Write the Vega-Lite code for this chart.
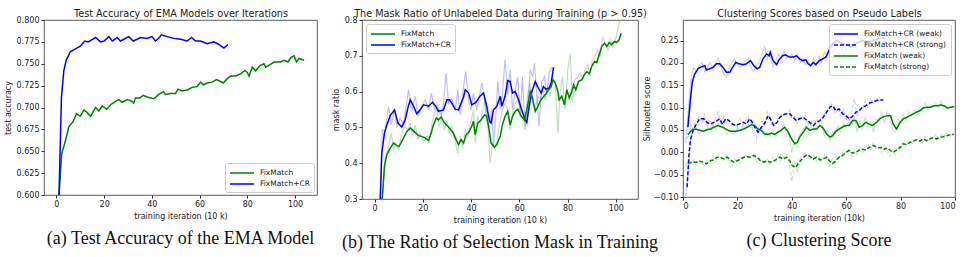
{
  "$schema": "https://vega.github.io/schema/vega-lite/v6.json",
  "background": "white",
  "padding": {"left": 3, "top": 7, "right": 4, "bottom": 2},
  "spacing": 45,
  "bounds": "flush",
  "resolve": {"scale": {"color": "independent", "strokeDash": "independent"}, "legend": {"color": "independent", "strokeDash": "independent"}},
  "datasets": {
    "a": [
      {"s":"FixMatch+CR","x":1.1,"y":0.600},{"s":"FixMatch+CR","x":2.1,"y":0.711},{"s":"FixMatch+CR","x":3.1,"y":0.742},{"s":"FixMatch+CR","x":4.1,"y":0.754},{"s":"FixMatch+CR","x":5.9,"y":0.764},{"s":"FixMatch+CR","x":8,"y":0.767},{"s":"FixMatch+CR","x":10,"y":0.770},{"s":"FixMatch+CR","x":11.9,"y":0.776},{"s":"FixMatch+CR","x":13.3,"y":0.775},{"s":"FixMatch+CR","x":14.6,"y":0.777},{"s":"FixMatch+CR","x":16.4,"y":0.780},{"s":"FixMatch+CR","x":18.5,"y":0.775},{"s":"FixMatch+CR","x":20,"y":0.776},{"s":"FixMatch+CR","x":22,"y":0.781},{"s":"FixMatch+CR","x":23.4,"y":0.776},{"s":"FixMatch+CR","x":25.5,"y":0.780},{"s":"FixMatch+CR","x":26.8,"y":0.776},{"s":"FixMatch+CR","x":28.3,"y":0.778},{"s":"FixMatch+CR","x":30.3,"y":0.781},{"s":"FixMatch+CR","x":32.2,"y":0.776},{"s":"FixMatch+CR","x":33.8,"y":0.778},{"s":"FixMatch+CR","x":35.2,"y":0.780},{"s":"FixMatch+CR","x":38,"y":0.779},{"s":"FixMatch+CR","x":40,"y":0.781},{"s":"FixMatch+CR","x":41.5,"y":0.776},{"s":"FixMatch+CR","x":42.8,"y":0.779},{"s":"FixMatch+CR","x":44,"y":0.783},{"s":"FixMatch+CR","x":46.4,"y":0.781},{"s":"FixMatch+CR","x":49.2,"y":0.779},{"s":"FixMatch+CR","x":52,"y":0.778},{"s":"FixMatch+CR","x":54.8,"y":0.776},{"s":"FixMatch+CR","x":56.6,"y":0.780},{"s":"FixMatch+CR","x":58.3,"y":0.776},{"s":"FixMatch+CR","x":60.4,"y":0.776},{"s":"FixMatch+CR","x":63.2,"y":0.773},{"s":"FixMatch+CR","x":66,"y":0.775},{"s":"FixMatch+CR","x":68.1,"y":0.772},{"s":"FixMatch+CR","x":70.2,"y":0.768},{"s":"FixMatch+CR","x":71.9,"y":0.772},
      {"s":"FixMatch","x":1.1,"y":0.600},{"s":"FixMatch","x":2.2,"y":0.647},{"s":"FixMatch","x":3.8,"y":0.662},{"s":"FixMatch","x":5.2,"y":0.678},{"s":"FixMatch","x":7,"y":0.684},{"s":"FixMatch","x":8.4,"y":0.693},{"s":"FixMatch","x":10,"y":0.690},{"s":"FixMatch","x":11.5,"y":0.697},{"s":"FixMatch","x":12.6,"y":0.695},{"s":"FixMatch","x":14.3,"y":0.690},{"s":"FixMatch","x":16.4,"y":0.700},{"s":"FixMatch","x":17.8,"y":0.696},{"s":"FixMatch","x":19.2,"y":0.702},{"s":"FixMatch","x":21,"y":0.698},{"s":"FixMatch","x":23.1,"y":0.704},{"s":"FixMatch","x":24.8,"y":0.707},{"s":"FixMatch","x":26.2,"y":0.709},{"s":"FixMatch","x":27.6,"y":0.706},{"s":"FixMatch","x":29.7,"y":0.709},{"s":"FixMatch","x":31.7,"y":0.707},{"s":"FixMatch","x":32.4,"y":0.705},{"s":"FixMatch","x":33.1,"y":0.711},{"s":"FixMatch","x":35,"y":0.711},{"s":"FixMatch","x":36.4,"y":0.714},{"s":"FixMatch","x":38,"y":0.712},{"s":"FixMatch","x":40.8,"y":0.710},{"s":"FixMatch","x":42.9,"y":0.715},{"s":"FixMatch","x":44.8,"y":0.718},{"s":"FixMatch","x":45.7,"y":0.715},{"s":"FixMatch","x":47.8,"y":0.716},{"s":"FixMatch","x":49.9,"y":0.716},{"s":"FixMatch","x":50.9,"y":0.721},{"s":"FixMatch","x":52.7,"y":0.719},{"s":"FixMatch","x":54.8,"y":0.720},{"s":"FixMatch","x":56.9,"y":0.723},{"s":"FixMatch","x":59,"y":0.724},{"s":"FixMatch","x":60.4,"y":0.729},{"s":"FixMatch","x":61.5,"y":0.726},{"s":"FixMatch","x":63.2,"y":0.728},{"s":"FixMatch","x":65.3,"y":0.729},{"s":"FixMatch","x":67.1,"y":0.732},{"s":"FixMatch","x":68.5,"y":0.730},{"s":"FixMatch","x":69.9,"y":0.728},{"s":"FixMatch","x":71.6,"y":0.733},{"s":"FixMatch","x":73,"y":0.736},{"s":"FixMatch","x":75.1,"y":0.736},{"s":"FixMatch","x":76.9,"y":0.738},{"s":"FixMatch","x":78.9,"y":0.742},{"s":"FixMatch","x":80,"y":0.740},{"s":"FixMatch","x":80.7,"y":0.736},{"s":"FixMatch","x":82.1,"y":0.746},{"s":"FixMatch","x":83.5,"y":0.742},{"s":"FixMatch","x":85.3,"y":0.748},{"s":"FixMatch","x":87,"y":0.750},{"s":"FixMatch","x":87.7,"y":0.746},{"s":"FixMatch","x":89.5,"y":0.749},{"s":"FixMatch","x":91.2,"y":0.752},{"s":"FixMatch","x":94,"y":0.752},{"s":"FixMatch","x":95.4,"y":0.754},{"s":"FixMatch","x":97.1,"y":0.752},{"s":"FixMatch","x":98.2,"y":0.757},{"s":"FixMatch","x":99.6,"y":0.759},{"s":"FixMatch","x":100.6,"y":0.752},{"s":"FixMatch","x":101.7,"y":0.756},{"s":"FixMatch","x":103.8,"y":0.754}
    ],
    "b_raw": [
      {"s":"FixMatch+CR","x":2,"y":0.27},{"s":"FixMatch+CR","x":3.3,"y":0.493},{"s":"FixMatch+CR","x":4.4,"y":0.489},{"s":"FixMatch+CR","x":5.8,"y":0.559},{"s":"FixMatch+CR","x":6.9,"y":0.507},{"s":"FixMatch+CR","x":8.3,"y":0.549},{"s":"FixMatch+CR","x":9.3,"y":0.503},{"s":"FixMatch+CR","x":10.6,"y":0.526},{"s":"FixMatch+CR","x":12,"y":0.507},{"s":"FixMatch+CR","x":14.1,"y":0.605},{"s":"FixMatch+CR","x":15.5,"y":0.545},{"s":"FixMatch+CR","x":16.9,"y":0.587},{"s":"FixMatch+CR","x":18,"y":0.531},{"s":"FixMatch+CR","x":19.6,"y":0.559},{"s":"FixMatch+CR","x":21,"y":0.577},{"s":"FixMatch+CR","x":22.4,"y":0.549},{"s":"FixMatch+CR","x":23.5,"y":0.596},{"s":"FixMatch+CR","x":24.9,"y":0.549},{"s":"FixMatch+CR","x":26.2,"y":0.559},{"s":"FixMatch+CR","x":27.6,"y":0.531},{"s":"FixMatch+CR","x":28.6,"y":0.568},{"s":"FixMatch+CR","x":29.6,"y":0.652},{"s":"FixMatch+CR","x":30.7,"y":0.568},{"s":"FixMatch+CR","x":32,"y":0.582},{"s":"FixMatch+CR","x":33.4,"y":0.545},{"s":"FixMatch+CR","x":34.5,"y":0.605},{"s":"FixMatch+CR","x":35.5,"y":0.535},{"s":"FixMatch+CR","x":36.9,"y":0.614},{"s":"FixMatch+CR","x":37.8,"y":0.656},{"s":"FixMatch+CR","x":39,"y":0.577},{"s":"FixMatch+CR","x":40.1,"y":0.549},{"s":"FixMatch+CR","x":41,"y":0.596},{"s":"FixMatch+CR","x":42.4,"y":0.549},{"s":"FixMatch+CR","x":43.4,"y":0.587},{"s":"FixMatch+CR","x":44.5,"y":0.624},{"s":"FixMatch+CR","x":45.6,"y":0.573},{"s":"FixMatch+CR","x":46.5,"y":0.521},{"s":"FixMatch+CR","x":47.5,"y":0.503},{"s":"FixMatch+CR","x":48.6,"y":0.549},{"s":"FixMatch+CR","x":49.3,"y":0.447},{"s":"FixMatch+CR","x":50.3,"y":0.54},{"s":"FixMatch+CR","x":51.1,"y":0.628},{"s":"FixMatch+CR","x":52.1,"y":0.549},{"s":"FixMatch+CR","x":53,"y":0.596},{"s":"FixMatch+CR","x":54.1,"y":0.689},{"s":"FixMatch+CR","x":55.2,"y":0.591},{"s":"FixMatch+CR","x":56.2,"y":0.661},{"s":"FixMatch+CR","x":57.2,"y":0.549},{"s":"FixMatch+CR","x":58.3,"y":0.605},{"s":"FixMatch+CR","x":59.4,"y":0.642},{"s":"FixMatch+CR","x":60.4,"y":0.531},{"s":"FixMatch+CR","x":61.3,"y":0.642},{"s":"FixMatch+CR","x":62.4,"y":0.493},{"s":"FixMatch+CR","x":63.5,"y":0.549},{"s":"FixMatch+CR","x":64.5,"y":0.661},{"s":"FixMatch+CR","x":65.5,"y":0.642},{"s":"FixMatch+CR","x":66.3,"y":0.68},{"s":"FixMatch+CR","x":67.3,"y":0.587},{"s":"FixMatch+CR","x":68.2,"y":0.503},{"s":"FixMatch+CR","x":69.3,"y":0.624},{"s":"FixMatch+CR","x":70.4,"y":0.642},{"s":"FixMatch+CR","x":71.4,"y":0.591},{"s":"FixMatch+CR","x":72.4,"y":0.652},{"s":"FixMatch+CR","x":73.2,"y":0.666},{"s":"FixMatch+CR","x":74.2,"y":0.666},
      {"s":"FixMatch","x":2.8,"y":0.27},{"s":"FixMatch","x":4.4,"y":0.41},{"s":"FixMatch","x":5.8,"y":0.447},{"s":"FixMatch","x":6.9,"y":0.484},{"s":"FixMatch","x":7.9,"y":0.438},{"s":"FixMatch","x":8.8,"y":0.456},{"s":"FixMatch","x":9.9,"y":0.438},{"s":"FixMatch","x":11.3,"y":0.484},{"s":"FixMatch","x":12.7,"y":0.503},{"s":"FixMatch","x":13.8,"y":0.493},{"s":"FixMatch","x":14.8,"y":0.512},{"s":"FixMatch","x":15.7,"y":0.475},{"s":"FixMatch","x":16.9,"y":0.507},{"s":"FixMatch","x":18,"y":0.466},{"s":"FixMatch","x":18.9,"y":0.484},{"s":"FixMatch","x":20.3,"y":0.461},{"s":"FixMatch","x":21.7,"y":0.475},{"s":"FixMatch","x":22.7,"y":0.456},{"s":"FixMatch","x":23.8,"y":0.512},{"s":"FixMatch","x":24.9,"y":0.54},{"s":"FixMatch","x":25.8,"y":0.549},{"s":"FixMatch","x":26.8,"y":0.503},{"s":"FixMatch","x":27.9,"y":0.526},{"s":"FixMatch","x":29,"y":0.493},{"s":"FixMatch","x":30,"y":0.521},{"s":"FixMatch","x":30.9,"y":0.484},{"s":"FixMatch","x":32,"y":0.503},{"s":"FixMatch","x":33.4,"y":0.461},{"s":"FixMatch","x":34.5,"y":0.428},{"s":"FixMatch","x":35.5,"y":0.475},{"s":"FixMatch","x":36.5,"y":0.442},{"s":"FixMatch","x":37.6,"y":0.493},{"s":"FixMatch","x":38.7,"y":0.475},{"s":"FixMatch","x":39.8,"y":0.512},{"s":"FixMatch","x":41,"y":0.549},{"s":"FixMatch","x":41.7,"y":0.456},{"s":"FixMatch","x":42.8,"y":0.531},{"s":"FixMatch","x":43.8,"y":0.507},{"s":"FixMatch","x":44.8,"y":0.549},{"s":"FixMatch","x":45.9,"y":0.577},{"s":"FixMatch","x":47,"y":0.503},{"s":"FixMatch","x":47.9,"y":0.4},{"s":"FixMatch","x":48.9,"y":0.456},{"s":"FixMatch","x":50,"y":0.438},{"s":"FixMatch","x":51.1,"y":0.475},{"s":"FixMatch","x":52.1,"y":0.521},{"s":"FixMatch","x":53,"y":0.549},{"s":"FixMatch","x":54.1,"y":0.568},{"s":"FixMatch","x":55.2,"y":0.549},{"s":"FixMatch","x":56.2,"y":0.493},{"s":"FixMatch","x":57.2,"y":0.54},{"s":"FixMatch","x":58.3,"y":0.568},{"s":"FixMatch","x":59.4,"y":0.577},{"s":"FixMatch","x":60.4,"y":0.549},{"s":"FixMatch","x":61.3,"y":0.521},{"s":"FixMatch","x":62.4,"y":0.512},{"s":"FixMatch","x":63.5,"y":0.596},{"s":"FixMatch","x":64.5,"y":0.624},{"s":"FixMatch","x":65.5,"y":0.568},{"s":"FixMatch","x":66.6,"y":0.549},{"s":"FixMatch","x":67.7,"y":0.587},{"s":"FixMatch","x":68.6,"y":0.577},{"s":"FixMatch","x":69.6,"y":0.605},{"s":"FixMatch","x":70.7,"y":0.577},{"s":"FixMatch","x":71.8,"y":0.614},{"s":"FixMatch","x":72.8,"y":0.587},{"s":"FixMatch","x":73.8,"y":0.642},{"s":"FixMatch","x":74.9,"y":0.624},{"s":"FixMatch","x":76,"y":0.484},{"s":"FixMatch","x":76.9,"y":0.596},{"s":"FixMatch","x":77.9,"y":0.642},{"s":"FixMatch","x":79,"y":0.549},{"s":"FixMatch","x":80.1,"y":0.661},{"s":"FixMatch","x":81.1,"y":0.707},{"s":"FixMatch","x":82,"y":0.568},{"s":"FixMatch","x":83.1,"y":0.633},{"s":"FixMatch","x":84.3,"y":0.642},{"s":"FixMatch","x":85.2,"y":0.652},{"s":"FixMatch","x":86.2,"y":0.633},{"s":"FixMatch","x":87.3,"y":0.661},{"s":"FixMatch","x":88.4,"y":0.675},{"s":"FixMatch","x":89.4,"y":0.642},{"s":"FixMatch","x":90.3,"y":0.689},{"s":"FixMatch","x":91.4,"y":0.698},{"s":"FixMatch","x":92.5,"y":0.717},{"s":"FixMatch","x":93.5,"y":0.698},{"s":"FixMatch","x":94.5,"y":0.754},{"s":"FixMatch","x":95.6,"y":0.735},{"s":"FixMatch","x":96.7,"y":0.717},{"s":"FixMatch","x":97.7,"y":0.745},{"s":"FixMatch","x":98.6,"y":0.726},{"s":"FixMatch","x":99.7,"y":0.74},{"s":"FixMatch","x":100.8,"y":0.773},{"s":"FixMatch","x":101.8,"y":0.8},{"s":"FixMatch","x":102.8,"y":0.805},{"s":"FixMatch","x":103.6,"y":0.805}
    ],
    "b_smooth": [
      {"s":"FixMatch+CR","x":2.3,"y":0.28},{"s":"FixMatch+CR","x":3,"y":0.428},{"s":"FixMatch+CR","x":4.1,"y":0.484},{"s":"FixMatch+CR","x":5.1,"y":0.507},{"s":"FixMatch+CR","x":6.5,"y":0.533},{"s":"FixMatch+CR","x":8.3,"y":0.549},{"s":"FixMatch+CR","x":9.7,"y":0.512},{"s":"FixMatch+CR","x":11.3,"y":0.501},{"s":"FixMatch+CR","x":12.7,"y":0.521},{"s":"FixMatch+CR","x":13.8,"y":0.554},{"s":"FixMatch+CR","x":14.8,"y":0.577},{"s":"FixMatch+CR","x":16.2,"y":0.559},{"s":"FixMatch+CR","x":17.5,"y":0.538},{"s":"FixMatch+CR","x":18.9,"y":0.549},{"s":"FixMatch+CR","x":20.3,"y":0.563},{"s":"FixMatch+CR","x":22.4,"y":0.559},{"s":"FixMatch+CR","x":24,"y":0.570},{"s":"FixMatch+CR","x":25.4,"y":0.559},{"s":"FixMatch+CR","x":26.5,"y":0.545},{"s":"FixMatch+CR","x":28.6,"y":0.549},{"s":"FixMatch+CR","x":30,"y":0.577},{"s":"FixMatch+CR","x":31,"y":0.577},{"s":"FixMatch+CR","x":32,"y":0.568},{"s":"FixMatch+CR","x":33.4,"y":0.551},{"s":"FixMatch+CR","x":34.8,"y":0.549},{"s":"FixMatch+CR","x":36.9,"y":0.585},{"s":"FixMatch+CR","x":37.6,"y":0.605},{"s":"FixMatch+CR","x":39,"y":0.596},{"s":"FixMatch+CR","x":40.3,"y":0.563},{"s":"FixMatch+CR","x":42,"y":0.570},{"s":"FixMatch+CR","x":43.8,"y":0.588},{"s":"FixMatch+CR","x":45.2,"y":0.596},{"s":"FixMatch+CR","x":46.5,"y":0.559},{"s":"FixMatch+CR","x":47.7,"y":0.517},{"s":"FixMatch+CR","x":48.3,"y":0.512},{"s":"FixMatch+CR","x":49.3,"y":0.549},{"s":"FixMatch+CR","x":50.7,"y":0.559},{"s":"FixMatch+CR","x":52.1,"y":0.587},{"s":"FixMatch+CR","x":52.8,"y":0.559},{"s":"FixMatch+CR","x":54.1,"y":0.587},{"s":"FixMatch+CR","x":55.2,"y":0.631},{"s":"FixMatch+CR","x":56.2,"y":0.628},{"s":"FixMatch+CR","x":57.2,"y":0.596},{"s":"FixMatch+CR","x":58.3,"y":0.600},{"s":"FixMatch+CR","x":59.7,"y":0.577},{"s":"FixMatch+CR","x":61,"y":0.549},{"s":"FixMatch+CR","x":62.4,"y":0.521},{"s":"FixMatch+CR","x":63.1,"y":0.514},{"s":"FixMatch+CR","x":64.1,"y":0.559},{"s":"FixMatch+CR","x":65.2,"y":0.600},{"s":"FixMatch+CR","x":66.6,"y":0.628},{"s":"FixMatch+CR","x":67.9,"y":0.610},{"s":"FixMatch+CR","x":69.1,"y":0.596},{"s":"FixMatch+CR","x":70,"y":0.614},{"s":"FixMatch+CR","x":71,"y":0.607},{"s":"FixMatch+CR","x":72.4,"y":0.610},{"s":"FixMatch+CR","x":73.2,"y":0.624},{"s":"FixMatch+CR","x":74.2,"y":0.668},
      {"s":"FixMatch","x":3,"y":0.28},{"s":"FixMatch","x":4.1,"y":0.391},{"s":"FixMatch","x":5.1,"y":0.424},{"s":"FixMatch","x":6.5,"y":0.442},{"s":"FixMatch","x":7.9,"y":0.456},{"s":"FixMatch","x":9.3,"y":0.449},{"s":"FixMatch","x":10.2,"y":0.447},{"s":"FixMatch","x":12,"y":0.470},{"s":"FixMatch","x":13.4,"y":0.489},{"s":"FixMatch","x":14.8,"y":0.498},{"s":"FixMatch","x":15.7,"y":0.493},{"s":"FixMatch","x":17.1,"y":0.484},{"s":"FixMatch","x":18.2,"y":0.477},{"s":"FixMatch","x":19.6,"y":0.475},{"s":"FixMatch","x":21,"y":0.470},{"s":"FixMatch","x":22.4,"y":0.464},{"s":"FixMatch","x":23.5,"y":0.484},{"s":"FixMatch","x":24.4,"y":0.507},{"s":"FixMatch","x":25.6,"y":0.526},{"s":"FixMatch","x":26.5,"y":0.521},{"s":"FixMatch","x":27.6,"y":0.529},{"s":"FixMatch","x":29,"y":0.512},{"s":"FixMatch","x":30.4,"y":0.503},{"s":"FixMatch","x":31.4,"y":0.495},{"s":"FixMatch","x":32.7,"y":0.484},{"s":"FixMatch","x":33.8,"y":0.466},{"s":"FixMatch","x":34.8,"y":0.452},{"s":"FixMatch","x":35.9,"y":0.466},{"s":"FixMatch","x":36.9,"y":0.456},{"s":"FixMatch","x":38,"y":0.480},{"s":"FixMatch","x":39,"y":0.486},{"s":"FixMatch","x":40.3,"y":0.503},{"s":"FixMatch","x":41,"y":0.517},{"s":"FixMatch","x":41.7,"y":0.480},{"s":"FixMatch","x":42.8,"y":0.512},{"s":"FixMatch","x":44.2,"y":0.521},{"s":"FixMatch","x":45.6,"y":0.535},{"s":"FixMatch","x":46.5,"y":0.531},{"s":"FixMatch","x":47.5,"y":0.493},{"s":"FixMatch","x":48.3,"y":0.456},{"s":"FixMatch","x":49.7,"y":0.445},{"s":"FixMatch","x":50.7,"y":0.452},{"s":"FixMatch","x":52.1,"y":0.475},{"s":"FixMatch","x":53,"y":0.507},{"s":"FixMatch","x":54.1,"y":0.531},{"s":"FixMatch","x":55.2,"y":0.545},{"s":"FixMatch","x":56.2,"y":0.507},{"s":"FixMatch","x":57.2,"y":0.531},{"s":"FixMatch","x":58.3,"y":0.545},{"s":"FixMatch","x":59.4,"y":0.551},{"s":"FixMatch","x":60.8,"y":0.531},{"s":"FixMatch","x":62.2,"y":0.521},{"s":"FixMatch","x":63.5,"y":0.563},{"s":"FixMatch","x":64.5,"y":0.600},{"s":"FixMatch","x":65.5,"y":0.582},{"s":"FixMatch","x":66.6,"y":0.545},{"s":"FixMatch","x":67.8,"y":0.559},{"s":"FixMatch","x":68.6,"y":0.573},{"s":"FixMatch","x":69.6,"y":0.582},{"s":"FixMatch","x":70.7,"y":0.591},{"s":"FixMatch","x":72.1,"y":0.605},{"s":"FixMatch","x":73.2,"y":0.614},{"s":"FixMatch","x":73.9,"y":0.633},{"s":"FixMatch","x":74.9,"y":0.624},{"s":"FixMatch","x":76,"y":0.600},{"s":"FixMatch","x":76.5,"y":0.577},{"s":"FixMatch","x":77.6,"y":0.587},{"s":"FixMatch","x":78.7,"y":0.563},{"s":"FixMatch","x":79.7,"y":0.605},{"s":"FixMatch","x":80.7,"y":0.582},{"s":"FixMatch","x":81.8,"y":0.600},{"s":"FixMatch","x":82.5,"y":0.619},{"s":"FixMatch","x":83.4,"y":0.605},{"s":"FixMatch","x":84.5,"y":0.628},{"s":"FixMatch","x":85.9,"y":0.633},{"s":"FixMatch","x":87,"y":0.647},{"s":"FixMatch","x":88,"y":0.656},{"s":"FixMatch","x":89,"y":0.650},{"s":"FixMatch","x":90,"y":0.670},{"s":"FixMatch","x":91.2,"y":0.684},{"s":"FixMatch","x":92.1,"y":0.681},{"s":"FixMatch","x":93.1,"y":0.703},{"s":"FixMatch","x":94.2,"y":0.726},{"s":"FixMatch","x":95.3,"y":0.735},{"s":"FixMatch","x":96.3,"y":0.726},{"s":"FixMatch","x":97.2,"y":0.737},{"s":"FixMatch","x":98.3,"y":0.731},{"s":"FixMatch","x":99.4,"y":0.740},{"s":"FixMatch","x":100.4,"y":0.737},{"s":"FixMatch","x":101.4,"y":0.745},{"s":"FixMatch","x":102.2,"y":0.763}
    ],
    "c_raw": [
      {"s":"FixMatch+CR (weak)","x":1,"y":0.02},{"s":"FixMatch+CR (weak)","x":2,"y":0.10},{"s":"FixMatch+CR (weak)","x":3,"y":0.17},{"s":"FixMatch+CR (weak)","x":4,"y":0.19},{"s":"FixMatch+CR (weak)","x":5,"y":0.18},{"s":"FixMatch+CR (weak)","x":6,"y":0.195},{"s":"FixMatch+CR (weak)","x":7,"y":0.20},{"s":"FixMatch+CR (weak)","x":8,"y":0.18},{"s":"FixMatch+CR (weak)","x":9,"y":0.19},{"s":"FixMatch+CR (weak)","x":10,"y":0.20},{"s":"FixMatch+CR (weak)","x":11,"y":0.185},{"s":"FixMatch+CR (weak)","x":12,"y":0.20},{"s":"FixMatch+CR (weak)","x":13,"y":0.21},{"s":"FixMatch+CR (weak)","x":14,"y":0.19},{"s":"FixMatch+CR (weak)","x":15,"y":0.175},{"s":"FixMatch+CR (weak)","x":16,"y":0.17},{"s":"FixMatch+CR (weak)","x":17,"y":0.19},{"s":"FixMatch+CR (weak)","x":18,"y":0.20},{"s":"FixMatch+CR (weak)","x":19,"y":0.21},{"s":"FixMatch+CR (weak)","x":20,"y":0.195},{"s":"FixMatch+CR (weak)","x":21,"y":0.19},{"s":"FixMatch+CR (weak)","x":22,"y":0.20},{"s":"FixMatch+CR (weak)","x":23,"y":0.205},{"s":"FixMatch+CR (weak)","x":24,"y":0.21},{"s":"FixMatch+CR (weak)","x":25,"y":0.19},{"s":"FixMatch+CR (weak)","x":26,"y":0.18},{"s":"FixMatch+CR (weak)","x":27,"y":0.195},{"s":"FixMatch+CR (weak)","x":28,"y":0.20},{"s":"FixMatch+CR (weak)","x":29,"y":0.22},{"s":"FixMatch+CR (weak)","x":30,"y":0.235},{"s":"FixMatch+CR (weak)","x":31,"y":0.21},{"s":"FixMatch+CR (weak)","x":32,"y":0.225},{"s":"FixMatch+CR (weak)","x":33,"y":0.19},{"s":"FixMatch+CR (weak)","x":34,"y":0.20},{"s":"FixMatch+CR (weak)","x":35,"y":0.22},{"s":"FixMatch+CR (weak)","x":36,"y":0.21},{"s":"FixMatch+CR (weak)","x":37,"y":0.225},{"s":"FixMatch+CR (weak)","x":38,"y":0.21},{"s":"FixMatch+CR (weak)","x":39,"y":0.215},{"s":"FixMatch+CR (weak)","x":40,"y":0.22},{"s":"FixMatch+CR (weak)","x":41,"y":0.205},{"s":"FixMatch+CR (weak)","x":42,"y":0.22},{"s":"FixMatch+CR (weak)","x":43,"y":0.20},{"s":"FixMatch+CR (weak)","x":44,"y":0.21},{"s":"FixMatch+CR (weak)","x":45,"y":0.195},{"s":"FixMatch+CR (weak)","x":46,"y":0.205},{"s":"FixMatch+CR (weak)","x":47,"y":0.19},{"s":"FixMatch+CR (weak)","x":48,"y":0.21},{"s":"FixMatch+CR (weak)","x":49,"y":0.195},{"s":"FixMatch+CR (weak)","x":50,"y":0.215},{"s":"FixMatch+CR (weak)","x":51,"y":0.20},{"s":"FixMatch+CR (weak)","x":52,"y":0.225},{"s":"FixMatch+CR (weak)","x":53,"y":0.215},{"s":"FixMatch+CR (weak)","x":54,"y":0.24},{"s":"FixMatch+CR (weak)","x":55,"y":0.235},{"s":"FixMatch+CR (weak)","x":56,"y":0.255},{"s":"FixMatch+CR (weak)","x":57,"y":0.24},{"s":"FixMatch+CR (weak)","x":58,"y":0.26},{"s":"FixMatch+CR (weak)","x":59,"y":0.21},{"s":"FixMatch+CR (weak)","x":60,"y":0.23},{"s":"FixMatch+CR (weak)","x":61,"y":0.25},{"s":"FixMatch+CR (weak)","x":62,"y":0.22},{"s":"FixMatch+CR (weak)","x":64,"y":0.24},{"s":"FixMatch+CR (weak)","x":66,"y":0.26},{"s":"FixMatch+CR (weak)","x":68,"y":0.235},{"s":"FixMatch+CR (weak)","x":70,"y":0.25},{"s":"FixMatch+CR (weak)","x":72,"y":0.26},{"s":"FixMatch+CR (weak)","x":74,"y":0.255},
      {"s":"FixMatch+CR (strong)","x":1,"y":-0.10},{"s":"FixMatch+CR (strong)","x":2,"y":-0.04},{"s":"FixMatch+CR (strong)","x":3,"y":0.04},{"s":"FixMatch+CR (strong)","x":4,"y":0.06},{"s":"FixMatch+CR (strong)","x":5,"y":0.07},{"s":"FixMatch+CR (strong)","x":6,"y":0.08},{"s":"FixMatch+CR (strong)","x":7,"y":0.065},{"s":"FixMatch+CR (strong)","x":8,"y":0.085},{"s":"FixMatch+CR (strong)","x":9,"y":0.06},{"s":"FixMatch+CR (strong)","x":10,"y":0.07},{"s":"FixMatch+CR (strong)","x":11,"y":0.06},{"s":"FixMatch+CR (strong)","x":12,"y":0.075},{"s":"FixMatch+CR (strong)","x":13,"y":0.09},{"s":"FixMatch+CR (strong)","x":14,"y":0.06},{"s":"FixMatch+CR (strong)","x":15,"y":0.08},{"s":"FixMatch+CR (strong)","x":16,"y":0.065},{"s":"FixMatch+CR (strong)","x":17,"y":0.07},{"s":"FixMatch+CR (strong)","x":18,"y":0.06},{"s":"FixMatch+CR (strong)","x":19,"y":0.065},{"s":"FixMatch+CR (strong)","x":20,"y":0.055},{"s":"FixMatch+CR (strong)","x":21,"y":0.075},{"s":"FixMatch+CR (strong)","x":22,"y":0.06},{"s":"FixMatch+CR (strong)","x":23,"y":0.07},{"s":"FixMatch+CR (strong)","x":24,"y":0.08},{"s":"FixMatch+CR (strong)","x":25,"y":0.07},{"s":"FixMatch+CR (strong)","x":26,"y":0.04},{"s":"FixMatch+CR (strong)","x":27,"y":0.03},{"s":"FixMatch+CR (strong)","x":28,"y":0.06},{"s":"FixMatch+CR (strong)","x":29,"y":0.07},{"s":"FixMatch+CR (strong)","x":30,"y":0.06},{"s":"FixMatch+CR (strong)","x":31,"y":0.09},{"s":"FixMatch+CR (strong)","x":32,"y":0.08},{"s":"FixMatch+CR (strong)","x":33,"y":0.06},{"s":"FixMatch+CR (strong)","x":34,"y":0.065},{"s":"FixMatch+CR (strong)","x":35,"y":0.075},{"s":"FixMatch+CR (strong)","x":36,"y":0.085},{"s":"FixMatch+CR (strong)","x":37,"y":0.08},{"s":"FixMatch+CR (strong)","x":38,"y":0.09},{"s":"FixMatch+CR (strong)","x":39,"y":0.095},{"s":"FixMatch+CR (strong)","x":40,"y":0.075},{"s":"FixMatch+CR (strong)","x":41,"y":0.08},{"s":"FixMatch+CR (strong)","x":42,"y":0.065},{"s":"FixMatch+CR (strong)","x":43,"y":0.08},{"s":"FixMatch+CR (strong)","x":44,"y":0.075},{"s":"FixMatch+CR (strong)","x":45,"y":0.085},{"s":"FixMatch+CR (strong)","x":46,"y":0.06},{"s":"FixMatch+CR (strong)","x":47,"y":0.07},{"s":"FixMatch+CR (strong)","x":48,"y":0.055},{"s":"FixMatch+CR (strong)","x":49,"y":0.075},{"s":"FixMatch+CR (strong)","x":50,"y":0.065},{"s":"FixMatch+CR (strong)","x":51,"y":0.08},{"s":"FixMatch+CR (strong)","x":52,"y":0.085},{"s":"FixMatch+CR (strong)","x":53,"y":0.095},{"s":"FixMatch+CR (strong)","x":54,"y":0.105},{"s":"FixMatch+CR (strong)","x":55,"y":0.11},{"s":"FixMatch+CR (strong)","x":56,"y":0.085},{"s":"FixMatch+CR (strong)","x":57,"y":0.10},{"s":"FixMatch+CR (strong)","x":58,"y":0.08},{"s":"FixMatch+CR (strong)","x":59,"y":0.095},{"s":"FixMatch+CR (strong)","x":60,"y":0.075},{"s":"FixMatch+CR (strong)","x":61,"y":0.07},{"s":"FixMatch+CR (strong)","x":62,"y":0.09},{"s":"FixMatch+CR (strong)","x":63,"y":0.12},{"s":"FixMatch+CR (strong)","x":64,"y":0.08},{"s":"FixMatch+CR (strong)","x":65,"y":0.10},{"s":"FixMatch+CR (strong)","x":66,"y":0.095},{"s":"FixMatch+CR (strong)","x":67,"y":0.115},{"s":"FixMatch+CR (strong)","x":68,"y":0.10},{"s":"FixMatch+CR (strong)","x":69,"y":0.12},{"s":"FixMatch+CR (strong)","x":70,"y":0.11},{"s":"FixMatch+CR (strong)","x":71,"y":0.12},{"s":"FixMatch+CR (strong)","x":72,"y":0.115},{"s":"FixMatch+CR (strong)","x":73,"y":0.12},{"s":"FixMatch+CR (strong)","x":74,"y":0.115},
      {"s":"FixMatch (weak)","x":1,"y":0.03},{"s":"FixMatch (weak)","x":2,"y":0.035},{"s":"FixMatch (weak)","x":3,"y":0.06},{"s":"FixMatch (weak)","x":4,"y":0.045},{"s":"FixMatch (weak)","x":5,"y":0.055},{"s":"FixMatch (weak)","x":6,"y":0.04},{"s":"FixMatch (weak)","x":7,"y":0.05},{"s":"FixMatch (weak)","x":8,"y":0.045},{"s":"FixMatch (weak)","x":9,"y":0.055},{"s":"FixMatch (weak)","x":10,"y":0.05},{"s":"FixMatch (weak)","x":11,"y":0.06},{"s":"FixMatch (weak)","x":12,"y":0.05},{"s":"FixMatch (weak)","x":13,"y":0.065},{"s":"FixMatch (weak)","x":14,"y":0.055},{"s":"FixMatch (weak)","x":15,"y":0.06},{"s":"FixMatch (weak)","x":16,"y":0.04},{"s":"FixMatch (weak)","x":17,"y":0.05},{"s":"FixMatch (weak)","x":18,"y":0.045},{"s":"FixMatch (weak)","x":19,"y":0.04},{"s":"FixMatch (weak)","x":20,"y":0.055},{"s":"FixMatch (weak)","x":21,"y":0.045},{"s":"FixMatch (weak)","x":22,"y":0.06},{"s":"FixMatch (weak)","x":23,"y":0.05},{"s":"FixMatch (weak)","x":24,"y":0.065},{"s":"FixMatch (weak)","x":25,"y":0.055},{"s":"FixMatch (weak)","x":26,"y":0.07},{"s":"FixMatch (weak)","x":27,"y":0.05},{"s":"FixMatch (weak)","x":28,"y":0.045},{"s":"FixMatch (weak)","x":29,"y":0.055},{"s":"FixMatch (weak)","x":30,"y":0.035},{"s":"FixMatch (weak)","x":31,"y":0.045},{"s":"FixMatch (weak)","x":32,"y":0.035},{"s":"FixMatch (weak)","x":33,"y":0.05},{"s":"FixMatch (weak)","x":34,"y":0.035},{"s":"FixMatch (weak)","x":35,"y":0.05},{"s":"FixMatch (weak)","x":36,"y":0.045},{"s":"FixMatch (weak)","x":37,"y":0.065},{"s":"FixMatch (weak)","x":38,"y":0.05},{"s":"FixMatch (weak)","x":39,"y":0.04},{"s":"FixMatch (weak)","x":40,"y":0.0},{"s":"FixMatch (weak)","x":41,"y":0.03},{"s":"FixMatch (weak)","x":42,"y":0.01},{"s":"FixMatch (weak)","x":43,"y":0.04},{"s":"FixMatch (weak)","x":44,"y":0.05},{"s":"FixMatch (weak)","x":45,"y":0.06},{"s":"FixMatch (weak)","x":46,"y":0.045},{"s":"FixMatch (weak)","x":47,"y":0.06},{"s":"FixMatch (weak)","x":48,"y":0.045},{"s":"FixMatch (weak)","x":49,"y":0.06},{"s":"FixMatch (weak)","x":50,"y":0.055},{"s":"FixMatch (weak)","x":51,"y":0.065},{"s":"FixMatch (weak)","x":52,"y":0.035},{"s":"FixMatch (weak)","x":53,"y":0.05},{"s":"FixMatch (weak)","x":54,"y":0.025},{"s":"FixMatch (weak)","x":55,"y":0.045},{"s":"FixMatch (weak)","x":56,"y":0.04},{"s":"FixMatch (weak)","x":57,"y":0.06},{"s":"FixMatch (weak)","x":58,"y":0.045},{"s":"FixMatch (weak)","x":59,"y":0.065},{"s":"FixMatch (weak)","x":60,"y":0.055},{"s":"FixMatch (weak)","x":61,"y":0.075},{"s":"FixMatch (weak)","x":62,"y":0.06},{"s":"FixMatch (weak)","x":63,"y":0.08},{"s":"FixMatch (weak)","x":64,"y":0.045},{"s":"FixMatch (weak)","x":65,"y":0.07},{"s":"FixMatch (weak)","x":66,"y":0.05},{"s":"FixMatch (weak)","x":67,"y":0.08},{"s":"FixMatch (weak)","x":68,"y":0.055},{"s":"FixMatch (weak)","x":69,"y":0.07},{"s":"FixMatch (weak)","x":70,"y":0.045},{"s":"FixMatch (weak)","x":71,"y":0.075},{"s":"FixMatch (weak)","x":72,"y":0.07},{"s":"FixMatch (weak)","x":73,"y":0.09},{"s":"FixMatch (weak)","x":74,"y":0.065},{"s":"FixMatch (weak)","x":75,"y":0.09},{"s":"FixMatch (weak)","x":76,"y":0.085},{"s":"FixMatch (weak)","x":77,"y":0.05},{"s":"FixMatch (weak)","x":78,"y":0.045},{"s":"FixMatch (weak)","x":79,"y":0.075},{"s":"FixMatch (weak)","x":80,"y":0.065},{"s":"FixMatch (weak)","x":81,"y":0.085},{"s":"FixMatch (weak)","x":82,"y":0.07},{"s":"FixMatch (weak)","x":83,"y":0.09},{"s":"FixMatch (weak)","x":84,"y":0.08},{"s":"FixMatch (weak)","x":85,"y":0.095},{"s":"FixMatch (weak)","x":86,"y":0.085},{"s":"FixMatch (weak)","x":87,"y":0.1},{"s":"FixMatch (weak)","x":88,"y":0.09},{"s":"FixMatch (weak)","x":89,"y":0.11},{"s":"FixMatch (weak)","x":90,"y":0.095},{"s":"FixMatch (weak)","x":91,"y":0.105},{"s":"FixMatch (weak)","x":92,"y":0.1},{"s":"FixMatch (weak)","x":93,"y":0.11},{"s":"FixMatch (weak)","x":94,"y":0.1},{"s":"FixMatch (weak)","x":95,"y":0.115},{"s":"FixMatch (weak)","x":96,"y":0.095},{"s":"FixMatch (weak)","x":97,"y":0.105},{"s":"FixMatch (weak)","x":98,"y":0.095},{"s":"FixMatch (weak)","x":99,"y":0.105},{"s":"FixMatch (weak)","x":100,"y":0.1},
      {"s":"FixMatch (strong)","x":1,"y":-0.03},{"s":"FixMatch (strong)","x":2,"y":-0.02},{"s":"FixMatch (strong)","x":3,"y":-0.025},{"s":"FixMatch (strong)","x":4,"y":-0.015},{"s":"FixMatch (strong)","x":5,"y":-0.03},{"s":"FixMatch (strong)","x":6,"y":-0.02},{"s":"FixMatch (strong)","x":7,"y":-0.025},{"s":"FixMatch (strong)","x":8,"y":-0.03},{"s":"FixMatch (strong)","x":9,"y":-0.015},{"s":"FixMatch (strong)","x":10,"y":-0.02},{"s":"FixMatch (strong)","x":11,"y":-0.01},{"s":"FixMatch (strong)","x":12,"y":-0.02},{"s":"FixMatch (strong)","x":13,"y":-0.005},{"s":"FixMatch (strong)","x":14,"y":-0.015},{"s":"FixMatch (strong)","x":15,"y":-0.02},{"s":"FixMatch (strong)","x":16,"y":-0.005},{"s":"FixMatch (strong)","x":17,"y":-0.02},{"s":"FixMatch (strong)","x":18,"y":-0.03},{"s":"FixMatch (strong)","x":19,"y":-0.015},{"s":"FixMatch (strong)","x":20,"y":-0.02},{"s":"FixMatch (strong)","x":21,"y":-0.01},{"s":"FixMatch (strong)","x":22,"y":-0.015},{"s":"FixMatch (strong)","x":23,"y":-0.005},{"s":"FixMatch (strong)","x":24,"y":-0.015},{"s":"FixMatch (strong)","x":25,"y":-0.005},{"s":"FixMatch (strong)","x":26,"y":-0.01},{"s":"FixMatch (strong)","x":27,"y":-0.02},{"s":"FixMatch (strong)","x":28,"y":-0.025},{"s":"FixMatch (strong)","x":29,"y":-0.015},{"s":"FixMatch (strong)","x":30,"y":-0.025},{"s":"FixMatch (strong)","x":31,"y":-0.015},{"s":"FixMatch (strong)","x":32,"y":-0.03},{"s":"FixMatch (strong)","x":33,"y":-0.01},{"s":"FixMatch (strong)","x":34,"y":-0.02},{"s":"FixMatch (strong)","x":35,"y":-0.005},{"s":"FixMatch (strong)","x":36,"y":-0.02},{"s":"FixMatch (strong)","x":37,"y":-0.01},{"s":"FixMatch (strong)","x":38,"y":-0.005},{"s":"FixMatch (strong)","x":39,"y":-0.02},{"s":"FixMatch (strong)","x":40,"y":-0.065},{"s":"FixMatch (strong)","x":41,"y":-0.02},{"s":"FixMatch (strong)","x":42,"y":-0.045},{"s":"FixMatch (strong)","x":43,"y":-0.015},{"s":"FixMatch (strong)","x":44,"y":-0.005},{"s":"FixMatch (strong)","x":45,"y":0.0},{"s":"FixMatch (strong)","x":46,"y":-0.01},{"s":"FixMatch (strong)","x":47,"y":-0.015},{"s":"FixMatch (strong)","x":48,"y":-0.005},{"s":"FixMatch (strong)","x":49,"y":-0.02},{"s":"FixMatch (strong)","x":50,"y":-0.01},{"s":"FixMatch (strong)","x":51,"y":-0.02},{"s":"FixMatch (strong)","x":52,"y":-0.005},{"s":"FixMatch (strong)","x":53,"y":-0.02},{"s":"FixMatch (strong)","x":54,"y":-0.03},{"s":"FixMatch (strong)","x":55,"y":-0.015},{"s":"FixMatch (strong)","x":56,"y":-0.025},{"s":"FixMatch (strong)","x":57,"y":-0.005},{"s":"FixMatch (strong)","x":58,"y":-0.01},{"s":"FixMatch (strong)","x":59,"y":0.005},{"s":"FixMatch (strong)","x":60,"y":-0.005},{"s":"FixMatch (strong)","x":61,"y":0.01},{"s":"FixMatch (strong)","x":62,"y":-0.01},{"s":"FixMatch (strong)","x":63,"y":0.005},{"s":"FixMatch (strong)","x":64,"y":-0.005},{"s":"FixMatch (strong)","x":65,"y":0.015},{"s":"FixMatch (strong)","x":66,"y":0.0},{"s":"FixMatch (strong)","x":67,"y":0.01},{"s":"FixMatch (strong)","x":68,"y":0.02},{"s":"FixMatch (strong)","x":69,"y":0.005},{"s":"FixMatch (strong)","x":70,"y":0.02},{"s":"FixMatch (strong)","x":71,"y":0.01},{"s":"FixMatch (strong)","x":72,"y":0.015},{"s":"FixMatch (strong)","x":73,"y":0.0},{"s":"FixMatch (strong)","x":74,"y":0.015},{"s":"FixMatch (strong)","x":75,"y":0.005},{"s":"FixMatch (strong)","x":76,"y":-0.01},{"s":"FixMatch (strong)","x":77,"y":0.005},{"s":"FixMatch (strong)","x":78,"y":-0.005},{"s":"FixMatch (strong)","x":79,"y":0.015},{"s":"FixMatch (strong)","x":80,"y":0.01},{"s":"FixMatch (strong)","x":81,"y":0.025},{"s":"FixMatch (strong)","x":82,"y":0.015},{"s":"FixMatch (strong)","x":83,"y":0.03},{"s":"FixMatch (strong)","x":84,"y":0.02},{"s":"FixMatch (strong)","x":85,"y":0.03},{"s":"FixMatch (strong)","x":86,"y":0.025},{"s":"FixMatch (strong)","x":87,"y":0.035},{"s":"FixMatch (strong)","x":88,"y":0.02},{"s":"FixMatch (strong)","x":89,"y":0.035},{"s":"FixMatch (strong)","x":90,"y":0.025},{"s":"FixMatch (strong)","x":91,"y":0.035},{"s":"FixMatch (strong)","x":92,"y":0.03},{"s":"FixMatch (strong)","x":93,"y":0.04},{"s":"FixMatch (strong)","x":94,"y":0.03},{"s":"FixMatch (strong)","x":95,"y":0.04},{"s":"FixMatch (strong)","x":96,"y":0.035},{"s":"FixMatch (strong)","x":97,"y":0.045},{"s":"FixMatch (strong)","x":98,"y":0.035},{"s":"FixMatch (strong)","x":99,"y":0.04},{"s":"FixMatch (strong)","x":100,"y":0.04}
    ],
    "c_smooth": [
      {"s":"FixMatch+CR (weak)","x":1.8,"y":0.056},{"s":"FixMatch+CR (weak)","x":2.7,"y":0.116},{"s":"FixMatch+CR (weak)","x":3.4,"y":0.157},{"s":"FixMatch+CR (weak)","x":4.3,"y":0.175},{"s":"FixMatch+CR (weak)","x":5.5,"y":0.187},{"s":"FixMatch+CR (weak)","x":7.1,"y":0.192},{"s":"FixMatch+CR (weak)","x":8,"y":0.194},{"s":"FixMatch+CR (weak)","x":8.6,"y":0.184},{"s":"FixMatch+CR (weak)","x":9.8,"y":0.187},{"s":"FixMatch+CR (weak)","x":11,"y":0.19},{"s":"FixMatch+CR (weak)","x":12.3,"y":0.198},{"s":"FixMatch+CR (weak)","x":13.5,"y":0.198},{"s":"FixMatch+CR (weak)","x":14.7,"y":0.19},{"s":"FixMatch+CR (weak)","x":16,"y":0.179},{"s":"FixMatch+CR (weak)","x":17.2,"y":0.179},{"s":"FixMatch+CR (weak)","x":18.2,"y":0.19},{"s":"FixMatch+CR (weak)","x":19.4,"y":0.201},{"s":"FixMatch+CR (weak)","x":20.6,"y":0.198},{"s":"FixMatch+CR (weak)","x":22.1,"y":0.196},{"s":"FixMatch+CR (weak)","x":23.3,"y":0.198},{"s":"FixMatch+CR (weak)","x":24.8,"y":0.205},{"s":"FixMatch+CR (weak)","x":26,"y":0.194},{"s":"FixMatch+CR (weak)","x":27.2,"y":0.187},{"s":"FixMatch+CR (weak)","x":28.2,"y":0.19},{"s":"FixMatch+CR (weak)","x":29.4,"y":0.209},{"s":"FixMatch+CR (weak)","x":30.7,"y":0.22},{"s":"FixMatch+CR (weak)","x":31.7,"y":0.216},{"s":"FixMatch+CR (weak)","x":32.1,"y":0.224},{"s":"FixMatch+CR (weak)","x":33.1,"y":0.205},{"s":"FixMatch+CR (weak)","x":34.4,"y":0.196},{"s":"FixMatch+CR (weak)","x":35.3,"y":0.207},{"s":"FixMatch+CR (weak)","x":36.6,"y":0.216},{"s":"FixMatch+CR (weak)","x":37.8,"y":0.218},{"s":"FixMatch+CR (weak)","x":39,"y":0.213},{"s":"FixMatch+CR (weak)","x":40.5,"y":0.213},{"s":"FixMatch+CR (weak)","x":41.7,"y":0.216},{"s":"FixMatch+CR (weak)","x":42.9,"y":0.209},{"s":"FixMatch+CR (weak)","x":43.9,"y":0.205},{"s":"FixMatch+CR (weak)","x":45.2,"y":0.207},{"s":"FixMatch+CR (weak)","x":46,"y":0.198},{"s":"FixMatch+CR (weak)","x":46.9,"y":0.194},{"s":"FixMatch+CR (weak)","x":47.9,"y":0.201},{"s":"FixMatch+CR (weak)","x":48.8,"y":0.196},{"s":"FixMatch+CR (weak)","x":50.1,"y":0.205},{"s":"FixMatch+CR (weak)","x":51.3,"y":0.209},{"s":"FixMatch+CR (weak)","x":52.5,"y":0.213},{"s":"FixMatch+CR (weak)","x":53.4,"y":0.224},{"s":"FixMatch+CR (weak)","x":54.2,"y":0.235},{"s":"FixMatch+CR (weak)","x":55,"y":0.243},{"s":"FixMatch+CR (weak)","x":56.5,"y":0.25},{"s":"FixMatch+CR (weak)","x":58,"y":0.245},{"s":"FixMatch+CR (weak)","x":60,"y":0.24},{"s":"FixMatch+CR (weak)","x":62,"y":0.235},{"s":"FixMatch+CR (weak)","x":64,"y":0.245},{"s":"FixMatch+CR (weak)","x":66,"y":0.25},{"s":"FixMatch+CR (weak)","x":68,"y":0.245},{"s":"FixMatch+CR (weak)","x":70,"y":0.25},{"s":"FixMatch+CR (weak)","x":72,"y":0.255},{"s":"FixMatch+CR (weak)","x":74,"y":0.255},
      {"s":"FixMatch+CR (strong)","x":1.5,"y":-0.078},{"s":"FixMatch+CR (strong)","x":2.2,"y":-0.004},{"s":"FixMatch+CR (strong)","x":2.7,"y":0.026},{"s":"FixMatch+CR (strong)","x":3.7,"y":0.049},{"s":"FixMatch+CR (strong)","x":4.9,"y":0.063},{"s":"FixMatch+CR (strong)","x":6.1,"y":0.075},{"s":"FixMatch+CR (strong)","x":7.6,"y":0.075},{"s":"FixMatch+CR (strong)","x":8.8,"y":0.067},{"s":"FixMatch+CR (strong)","x":10.1,"y":0.063},{"s":"FixMatch+CR (strong)","x":11.3,"y":0.067},{"s":"FixMatch+CR (strong)","x":12.5,"y":0.071},{"s":"FixMatch+CR (strong)","x":13.5,"y":0.075},{"s":"FixMatch+CR (strong)","x":14.5,"y":0.063},{"s":"FixMatch+CR (strong)","x":15.7,"y":0.075},{"s":"FixMatch+CR (strong)","x":16.9,"y":0.071},{"s":"FixMatch+CR (strong)","x":18.2,"y":0.063},{"s":"FixMatch+CR (strong)","x":19.4,"y":0.06},{"s":"FixMatch+CR (strong)","x":20.6,"y":0.063},{"s":"FixMatch+CR (strong)","x":22.1,"y":0.067},{"s":"FixMatch+CR (strong)","x":23.3,"y":0.063},{"s":"FixMatch+CR (strong)","x":24.5,"y":0.075},{"s":"FixMatch+CR (strong)","x":25.5,"y":0.067},{"s":"FixMatch+CR (strong)","x":26.4,"y":0.056},{"s":"FixMatch+CR (strong)","x":27.6,"y":0.045},{"s":"FixMatch+CR (strong)","x":28.8,"y":0.056},{"s":"FixMatch+CR (strong)","x":30,"y":0.065},{"s":"FixMatch+CR (strong)","x":31.3,"y":0.082},{"s":"FixMatch+CR (strong)","x":32.1,"y":0.075},{"s":"FixMatch+CR (strong)","x":33.4,"y":0.06},{"s":"FixMatch+CR (strong)","x":34.6,"y":0.067},{"s":"FixMatch+CR (strong)","x":35.6,"y":0.078},{"s":"FixMatch+CR (strong)","x":36.8,"y":0.084},{"s":"FixMatch+CR (strong)","x":38,"y":0.086},{"s":"FixMatch+CR (strong)","x":39.3,"y":0.086},{"s":"FixMatch+CR (strong)","x":40.5,"y":0.078},{"s":"FixMatch+CR (strong)","x":41.7,"y":0.071},{"s":"FixMatch+CR (strong)","x":42.9,"y":0.075},{"s":"FixMatch+CR (strong)","x":44.2,"y":0.078},{"s":"FixMatch+CR (strong)","x":45.4,"y":0.072},{"s":"FixMatch+CR (strong)","x":46.6,"y":0.067},{"s":"FixMatch+CR (strong)","x":47.9,"y":0.06},{"s":"FixMatch+CR (strong)","x":49.1,"y":0.067},{"s":"FixMatch+CR (strong)","x":50.3,"y":0.071},{"s":"FixMatch+CR (strong)","x":51.5,"y":0.078},{"s":"FixMatch+CR (strong)","x":52.8,"y":0.09},{"s":"FixMatch+CR (strong)","x":54,"y":0.101},{"s":"FixMatch+CR (strong)","x":55,"y":0.104},{"s":"FixMatch+CR (strong)","x":56.2,"y":0.093},{"s":"FixMatch+CR (strong)","x":57.4,"y":0.097},{"s":"FixMatch+CR (strong)","x":58.7,"y":0.086},{"s":"FixMatch+CR (strong)","x":59.9,"y":0.082},{"s":"FixMatch+CR (strong)","x":61.1,"y":0.075},{"s":"FixMatch+CR (strong)","x":62.3,"y":0.08},{"s":"FixMatch+CR (strong)","x":63.6,"y":0.09},{"s":"FixMatch+CR (strong)","x":64.8,"y":0.093},{"s":"FixMatch+CR (strong)","x":66,"y":0.101},{"s":"FixMatch+CR (strong)","x":67.2,"y":0.104},{"s":"FixMatch+CR (strong)","x":68.5,"y":0.11},{"s":"FixMatch+CR (strong)","x":69.7,"y":0.112},{"s":"FixMatch+CR (strong)","x":71.2,"y":0.116},{"s":"FixMatch+CR (strong)","x":72.4,"y":0.117},{"s":"FixMatch+CR (strong)","x":73.6,"y":0.117},
      {"s":"FixMatch (weak)","x":1.8,"y":0.04},{"s":"FixMatch (weak)","x":3.1,"y":0.049},{"s":"FixMatch (weak)","x":4.3,"y":0.052},{"s":"FixMatch (weak)","x":5.9,"y":0.05},{"s":"FixMatch (weak)","x":7.4,"y":0.047},{"s":"FixMatch (weak)","x":8.6,"y":0.05},{"s":"FixMatch (weak)","x":10.1,"y":0.052},{"s":"FixMatch (weak)","x":11.3,"y":0.056},{"s":"FixMatch (weak)","x":12.9,"y":0.06},{"s":"FixMatch (weak)","x":14.1,"y":0.057},{"s":"FixMatch (weak)","x":15.3,"y":0.054},{"s":"FixMatch (weak)","x":16.6,"y":0.049},{"s":"FixMatch (weak)","x":17.8,"y":0.047},{"s":"FixMatch (weak)","x":19.4,"y":0.047},{"s":"FixMatch (weak)","x":20.9,"y":0.049},{"s":"FixMatch (weak)","x":22.3,"y":0.052},{"s":"FixMatch (weak)","x":23.9,"y":0.057},{"s":"FixMatch (weak)","x":25.2,"y":0.062},{"s":"FixMatch (weak)","x":26.4,"y":0.06},{"s":"FixMatch (weak)","x":27.6,"y":0.052},{"s":"FixMatch (weak)","x":28.8,"y":0.049},{"s":"FixMatch (weak)","x":30,"y":0.041},{"s":"FixMatch (weak)","x":31.3,"y":0.04},{"s":"FixMatch (weak)","x":32.5,"y":0.043},{"s":"FixMatch (weak)","x":33.7,"y":0.04},{"s":"FixMatch (weak)","x":35,"y":0.045},{"s":"FixMatch (weak)","x":36.2,"y":0.05},{"s":"FixMatch (weak)","x":37.4,"y":0.056},{"s":"FixMatch (weak)","x":38.7,"y":0.045},{"s":"FixMatch (weak)","x":39.9,"y":0.03},{"s":"FixMatch (weak)","x":41.1,"y":0.019},{"s":"FixMatch (weak)","x":42,"y":0.022},{"s":"FixMatch (weak)","x":42.9,"y":0.034},{"s":"FixMatch (weak)","x":44.2,"y":0.045},{"s":"FixMatch (weak)","x":45.4,"y":0.056},{"s":"FixMatch (weak)","x":46.6,"y":0.049},{"s":"FixMatch (weak)","x":47.9,"y":0.052},{"s":"FixMatch (weak)","x":49.1,"y":0.052},{"s":"FixMatch (weak)","x":50.3,"y":0.06},{"s":"FixMatch (weak)","x":51.5,"y":0.054},{"s":"FixMatch (weak)","x":52.8,"y":0.041},{"s":"FixMatch (weak)","x":54,"y":0.034},{"s":"FixMatch (weak)","x":55,"y":0.037},{"s":"FixMatch (weak)","x":56.2,"y":0.047},{"s":"FixMatch (weak)","x":57.4,"y":0.052},{"s":"FixMatch (weak)","x":58.7,"y":0.057},{"s":"FixMatch (weak)","x":59.9,"y":0.06},{"s":"FixMatch (weak)","x":61.1,"y":0.06},{"s":"FixMatch (weak)","x":62.3,"y":0.071},{"s":"FixMatch (weak)","x":63.6,"y":0.071},{"s":"FixMatch (weak)","x":64.8,"y":0.056},{"s":"FixMatch (weak)","x":66,"y":0.06},{"s":"FixMatch (weak)","x":67.2,"y":0.067},{"s":"FixMatch (weak)","x":68.5,"y":0.063},{"s":"FixMatch (weak)","x":69.7,"y":0.06},{"s":"FixMatch (weak)","x":71.2,"y":0.067},{"s":"FixMatch (weak)","x":72.4,"y":0.075},{"s":"FixMatch (weak)","x":73.9,"y":0.08},{"s":"FixMatch (weak)","x":75.1,"y":0.082},{"s":"FixMatch (weak)","x":76.3,"y":0.082},{"s":"FixMatch (weak)","x":77.3,"y":0.063},{"s":"FixMatch (weak)","x":78.5,"y":0.052},{"s":"FixMatch (weak)","x":79.8,"y":0.067},{"s":"FixMatch (weak)","x":81,"y":0.075},{"s":"FixMatch (weak)","x":82.2,"y":0.078},{"s":"FixMatch (weak)","x":83.4,"y":0.082},{"s":"FixMatch (weak)","x":84.7,"y":0.086},{"s":"FixMatch (weak)","x":85.9,"y":0.09},{"s":"FixMatch (weak)","x":87.1,"y":0.093},{"s":"FixMatch (weak)","x":88.3,"y":0.099},{"s":"FixMatch (weak)","x":89.8,"y":0.101},{"s":"FixMatch (weak)","x":91,"y":0.101},{"s":"FixMatch (weak)","x":92.3,"y":0.104},{"s":"FixMatch (weak)","x":93.5,"y":0.104},{"s":"FixMatch (weak)","x":94.7,"y":0.106},{"s":"FixMatch (weak)","x":96,"y":0.104},{"s":"FixMatch (weak)","x":97.2,"y":0.099},{"s":"FixMatch (weak)","x":98.4,"y":0.101},{"s":"FixMatch (weak)","x":99.6,"y":0.102},
      {"s":"FixMatch (strong)","x":1.8,"y":-0.026},{"s":"FixMatch (strong)","x":3.1,"y":-0.022},{"s":"FixMatch (strong)","x":4.9,"y":-0.022},{"s":"FixMatch (strong)","x":6.1,"y":-0.02},{"s":"FixMatch (strong)","x":7.4,"y":-0.022},{"s":"FixMatch (strong)","x":8.6,"y":-0.026},{"s":"FixMatch (strong)","x":10.1,"y":-0.019},{"s":"FixMatch (strong)","x":11.3,"y":-0.017},{"s":"FixMatch (strong)","x":12.5,"y":-0.011},{"s":"FixMatch (strong)","x":13.7,"y":-0.011},{"s":"FixMatch (strong)","x":15,"y":-0.015},{"s":"FixMatch (strong)","x":16.2,"y":-0.011},{"s":"FixMatch (strong)","x":17.4,"y":-0.017},{"s":"FixMatch (strong)","x":18.7,"y":-0.022},{"s":"FixMatch (strong)","x":19.9,"y":-0.019},{"s":"FixMatch (strong)","x":21.1,"y":-0.015},{"s":"FixMatch (strong)","x":22.3,"y":-0.011},{"s":"FixMatch (strong)","x":23.6,"y":-0.01},{"s":"FixMatch (strong)","x":24.8,"y":-0.011},{"s":"FixMatch (strong)","x":26,"y":-0.007},{"s":"FixMatch (strong)","x":27.2,"y":-0.011},{"s":"FixMatch (strong)","x":28.5,"y":-0.019},{"s":"FixMatch (strong)","x":29.7,"y":-0.022},{"s":"FixMatch (strong)","x":30.9,"y":-0.019},{"s":"FixMatch (strong)","x":32.1,"y":-0.022},{"s":"FixMatch (strong)","x":33.4,"y":-0.019},{"s":"FixMatch (strong)","x":34.6,"y":-0.015},{"s":"FixMatch (strong)","x":35.6,"y":-0.011},{"s":"FixMatch (strong)","x":36.8,"y":-0.015},{"s":"FixMatch (strong)","x":38,"y":-0.011},{"s":"FixMatch (strong)","x":39.3,"y":-0.019},{"s":"FixMatch (strong)","x":40.2,"y":-0.03},{"s":"FixMatch (strong)","x":41.5,"y":-0.034},{"s":"FixMatch (strong)","x":42.3,"y":-0.026},{"s":"FixMatch (strong)","x":43.2,"y":-0.019},{"s":"FixMatch (strong)","x":44.4,"y":-0.011},{"s":"FixMatch (strong)","x":45.6,"y":-0.005},{"s":"FixMatch (strong)","x":46.9,"y":-0.01},{"s":"FixMatch (strong)","x":47.9,"y":-0.015},{"s":"FixMatch (strong)","x":49.1,"y":-0.011},{"s":"FixMatch (strong)","x":50.3,"y":-0.017},{"s":"FixMatch (strong)","x":51.5,"y":-0.015},{"s":"FixMatch (strong)","x":52.8,"y":-0.011},{"s":"FixMatch (strong)","x":54,"y":-0.02},{"s":"FixMatch (strong)","x":55,"y":-0.025},{"s":"FixMatch (strong)","x":56.2,"y":-0.019},{"s":"FixMatch (strong)","x":57.4,"y":-0.011},{"s":"FixMatch (strong)","x":58.7,"y":-0.007},{"s":"FixMatch (strong)","x":59.9,"y":0.0},{"s":"FixMatch (strong)","x":61.1,"y":0.004},{"s":"FixMatch (strong)","x":62.3,"y":-0.002},{"s":"FixMatch (strong)","x":63.6,"y":0.0},{"s":"FixMatch (strong)","x":64.8,"y":0.005},{"s":"FixMatch (strong)","x":66,"y":0.007},{"s":"FixMatch (strong)","x":67.2,"y":0.005},{"s":"FixMatch (strong)","x":68.5,"y":0.011},{"s":"FixMatch (strong)","x":69.7,"y":0.015},{"s":"FixMatch (strong)","x":70.9,"y":0.013},{"s":"FixMatch (strong)","x":72.1,"y":0.01},{"s":"FixMatch (strong)","x":73.1,"y":0.011},{"s":"FixMatch (strong)","x":74.1,"y":0.007},{"s":"FixMatch (strong)","x":75.1,"y":0.01},{"s":"FixMatch (strong)","x":76.3,"y":0.004},{"s":"FixMatch (strong)","x":77.3,"y":0.0},{"s":"FixMatch (strong)","x":78.5,"y":0.005},{"s":"FixMatch (strong)","x":79.8,"y":0.011},{"s":"FixMatch (strong)","x":81,"y":0.019},{"s":"FixMatch (strong)","x":82.2,"y":0.017},{"s":"FixMatch (strong)","x":83.4,"y":0.022},{"s":"FixMatch (strong)","x":84.7,"y":0.025},{"s":"FixMatch (strong)","x":85.9,"y":0.028},{"s":"FixMatch (strong)","x":87.1,"y":0.025},{"s":"FixMatch (strong)","x":88.3,"y":0.03},{"s":"FixMatch (strong)","x":89.6,"y":0.026},{"s":"FixMatch (strong)","x":90.8,"y":0.03},{"s":"FixMatch (strong)","x":92,"y":0.032},{"s":"FixMatch (strong)","x":93.3,"y":0.03},{"s":"FixMatch (strong)","x":94.5,"y":0.034},{"s":"FixMatch (strong)","x":95.7,"y":0.035},{"s":"FixMatch (strong)","x":96.9,"y":0.037},{"s":"FixMatch (strong)","x":98.2,"y":0.039},{"s":"FixMatch (strong)","x":99.6,"y":0.04}
    ]
  },
  "hconcat": [
    {
      "title": {"text": "(a) Test Accuracy of the EMA Model", "orient": "bottom", "font": "Liberation Serif", "fontSize": 18, "fontWeight": "normal", "color": "#111", "offset": 10},
      "width": 273, "height": 175,
      "resolve": {"axis": {"x": "independent"}},
      "encoding": {
        "y": {"field": "y", "type": "quantitative", "scale": {"domain": [0.6, 0.8], "nice": false, "zero": false}, "axis": {"values": [0.6,0.625,0.65,0.675,0.7,0.725,0.75,0.775,0.8], "format": ".3f", "title": "test accuracy", "labelOverlap": false, "titlePadding": 4}},
        "color": {"field": "s", "type": "nominal", "scale": {"domain": ["FixMatch", "FixMatch+CR"], "range": ["#008000", "#0000ff"]},
          "legend": {"orient": "bottom-right", "offset": 3, "title": null, "symbolType": "M-2.4,0H2.4", "symbolSize": 100, "symbolOffset": 7, "labelOffset": 12, "symbolStrokeWidth": 1.5, "symbolOpacity": 1, "symbolFillColor": "transparent", "labelFont": "DejaVu Sans", "labelFontSize": 7.5, "labelColor": "#222", "fillColor": "rgba(255,255,255,0.8)", "strokeColor": "#ccc", "padding": 4, "cornerRadius": 2, "rowPadding": 1}}
      },
      "layer": [
        {
          "data": {"name": "a"},
          "transform": [{"filter": {"field": "s", "equal": "FixMatch"}}],
          "mark": {"type": "line", "clip": true, "strokeWidth": 1.5},
          "encoding": {
            "x": {"field": "x", "type": "quantitative", "scale": {"domain": [-5.2, 109.2], "nice": false, "zero": false}, "axis": {"orient": "bottom", "values": [0,20,40,60,80,100], "title": "training iteration (10 k)"}}
          }
        },
        {
          "data": {"name": "a"},
          "transform": [{"filter": {"field": "s", "equal": "FixMatch+CR"}}],
          "mark": {"type": "line", "clip": true, "strokeWidth": 1.5},
          "encoding": {
            "x": {"field": "x", "type": "quantitative", "scale": {"domain": [-5.2, 109.2], "nice": false, "zero": false}, "axis": {"orient": "top", "title": "Test Accuracy of EMA Models over Iterations", "labels": false, "ticks": false, "domain": false, "titleFontSize": 9.7, "titlePadding": 2}}
          }
        }
      ]
    },
    {
      "title": {"text": "(b) The Ratio of Selection Mask in Training", "orient": "bottom", "font": "Liberation Serif", "fontSize": 18, "fontWeight": "normal", "color": "#111", "offset": 10},
      "width": 276, "height": 179,
      "resolve": {"axis": {"x": "independent"}},
      "encoding": {
        "y": {"field": "y", "type": "quantitative", "scale": {"domain": [0.3, 0.8], "nice": false, "zero": false}, "axis": {"values": [0.3,0.4,0.5,0.6,0.7,0.8], "format": ".1f", "title": "mask ratio", "labelOverlap": false, "titlePadding": 4}},
        "color": {"field": "s", "type": "nominal", "scale": {"domain": ["FixMatch", "FixMatch+CR"], "range": ["#008000", "#0000ff"]},
          "legend": {"orient": "top-left", "offset": 4, "title": null, "symbolType": "M-2.4,0H2.4", "symbolSize": 100, "symbolOffset": 7, "labelOffset": 12, "symbolStrokeWidth": 1.5, "symbolOpacity": 1, "symbolFillColor": "transparent", "labelFont": "DejaVu Sans", "labelFontSize": 7.5, "labelColor": "#222", "fillColor": "rgba(255,255,255,0.8)", "strokeColor": "#ccc", "padding": 4, "cornerRadius": 2, "rowPadding": 1}}
      },
      "layer": [
        {
          "data": {"name": "b_raw"},
          "mark": {"type": "line", "clip": true, "strokeWidth": 1.2, "opacity": 0.25},
          "encoding": {
            "x": {"field": "x", "type": "quantitative", "scale": {"domain": [-5.2, 109.2], "nice": false, "zero": false}, "axis": {"orient": "bottom", "values": [0,20,40,60,80,100], "title": "training iteration (10 k)"}}
          }
        },
        {
          "data": {"name": "b_smooth"},
          "mark": {"type": "line", "clip": true, "strokeWidth": 1.5},
          "encoding": {
            "x": {"field": "x", "type": "quantitative", "scale": {"domain": [-5.2, 109.2], "nice": false, "zero": false}, "axis": {"orient": "top", "title": "The Mask Ratio of Unlabeled Data during Training (p > 0.95)", "labels": false, "ticks": false, "domain": false, "titleFontSize": 9.7, "titlePadding": 2}}
          }
        }
      ]
    },
    {
      "title": {"text": "(c) Clustering Score", "orient": "bottom", "font": "Liberation Serif", "fontSize": 18, "fontWeight": "normal", "color": "#111", "offset": 10},
      "width": 272, "height": 177,
      "resolve": {"axis": {"x": "independent"}},
      "encoding": {
        "y": {"field": "y", "type": "quantitative", "scale": {"domain": [-0.1, 0.296], "nice": false, "zero": false}, "axis": {"values": [-0.1,-0.05,0,0.05,0.1,0.15,0.2,0.25], "format": ".2f", "title": "Silhouette score", "labelOverlap": false, "titlePadding": 2}},
        "color": {"field": "s", "type": "nominal", "scale": {"domain": ["FixMatch+CR (weak)", "FixMatch+CR (strong)", "FixMatch (weak)", "FixMatch (strong)"], "range": ["#0000ff", "#0000ff", "#008000", "#008000"]},
          "legend": {"orient": "top-right", "offset": 4, "title": null, "symbolType": "M-2.4,0H2.4", "symbolSize": 100, "symbolOffset": 7, "labelOffset": 12, "symbolStrokeWidth": 1.5, "symbolOpacity": 1, "symbolFillColor": "transparent", "labelFont": "DejaVu Sans", "labelFontSize": 7.5, "labelColor": "#222", "fillColor": "rgba(255,255,255,0.8)", "strokeColor": "#ccc", "padding": 4, "cornerRadius": 2, "rowPadding": 1}},
        "strokeDash": {"field": "s", "type": "nominal", "scale": {"domain": ["FixMatch+CR (weak)", "FixMatch+CR (strong)", "FixMatch (weak)", "FixMatch (strong)"], "range": [[1,0],[4,2],[1,0],[4,2]]},
          "legend": {"orient": "top-right", "offset": 4, "title": null, "symbolType": "M-2.4,0H2.4", "symbolSize": 100, "symbolOffset": 7, "labelOffset": 12, "symbolStrokeWidth": 1.5, "symbolOpacity": 1, "symbolFillColor": "transparent", "labelFont": "DejaVu Sans", "labelFontSize": 7.5, "labelColor": "#222", "fillColor": "rgba(255,255,255,0.8)", "strokeColor": "#ccc", "padding": 4, "cornerRadius": 2, "rowPadding": 1}}
      },
      "layer": [
        {
          "data": {"name": "c_raw"},
          "mark": {"type": "line", "clip": true, "strokeWidth": 1.2, "opacity": 0.2},
          "encoding": {
            "x": {"field": "x", "type": "quantitative", "scale": {"domain": [0, 100], "nice": false, "zero": false}, "axis": {"orient": "bottom", "values": [0,20,40,60,80,100], "title": "training iteration (10k)"}}
          }
        },
        {
          "data": {"name": "c_smooth"},
          "mark": {"type": "line", "clip": true, "strokeWidth": 1.5},
          "encoding": {
            "x": {"field": "x", "type": "quantitative", "scale": {"domain": [0, 100], "nice": false, "zero": false}, "axis": {"orient": "top", "title": "Clustering Scores based on Pseudo Labels", "labels": false, "ticks": false, "domain": false, "titleFontSize": 9.7, "titlePadding": 2}}
          }
        }
      ]
    }
  ],
  "config": {
    "view": {"stroke": "#333", "strokeWidth": 0.8},
    "axis": {"domain": false, "grid": false, "labelFont": "DejaVu Sans", "labelFontSize": 8, "labelColor": "#222", "titleFont": "DejaVu Sans", "titleFontSize": 8, "titleFontWeight": "normal", "titleColor": "#222", "tickColor": "#333", "tickSize": 3, "labelPadding": 2, "titlePadding": 4},
    "title": {"font": "DejaVu Sans", "fontSize": 9.5, "fontWeight": "normal", "color": "#222"}
  }
}
